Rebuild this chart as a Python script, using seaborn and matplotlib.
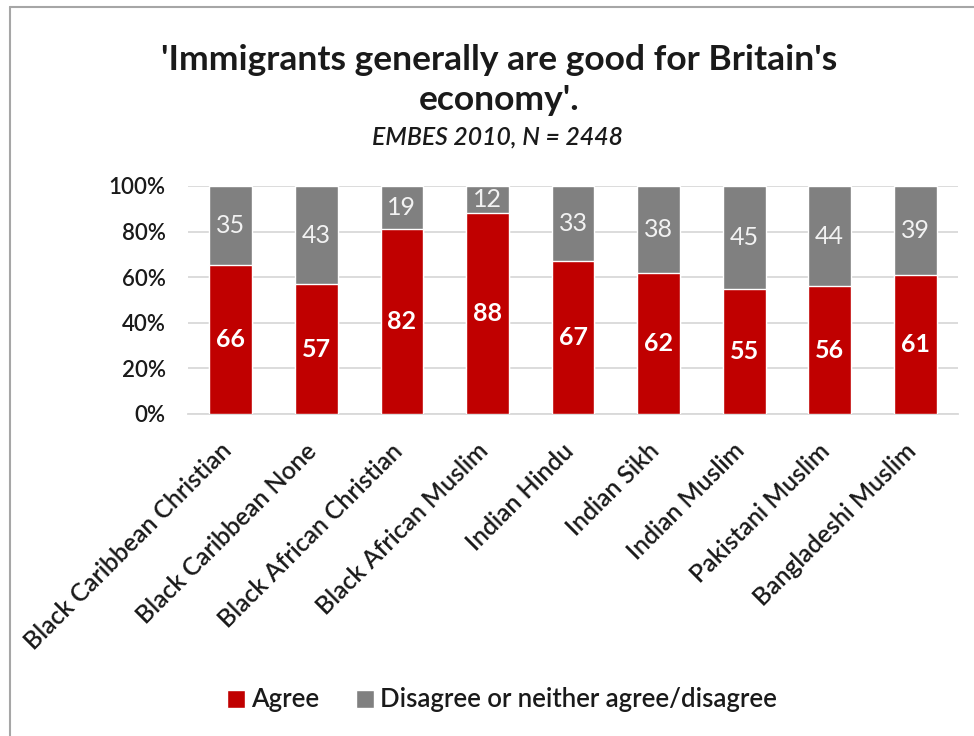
import matplotlib
matplotlib.use("Agg")
import matplotlib.pyplot as plt
import matplotlib.transforms as mtransforms
from matplotlib.lines import Line2D
from matplotlib.patches import Patch
import seaborn as sns
import pandas as pd

# Survey responses by ethno-religious group (counts shown as labels)
groups = [
    "Black Caribbean Christian",
    "Black Caribbean None",
    "Black African Christian",
    "Black African Muslim",
    "Indian Hindu",
    "Indian Sikh",
    "Indian Muslim",
    "Pakistani Muslim",
    "Bangladeshi Muslim",
]
agree = [66, 57, 82, 88, 67, 62, 55, 56, 61]
disagree = [35, 43, 19, 12, 33, 38, 45, 44, 39]
y_ticks = [0, 20, 40, 60, 80, 100]

AGREE_COLOR = "#C00000"
DISAGREE_COLOR = "#808080"
TEXT_COLOR = "#1a1a1a"
LABEL_WEIGHT = "semibold"

sns.set_theme(style="white")
plt.rcParams["font.family"] = ["Lato", "DejaVu Sans"]

df = pd.DataFrame({"group": groups, "agree": agree, "disagree": disagree})
df["total"] = df["agree"] + df["disagree"]
df["agree_pct"] = df["agree"] / df["total"] * 100
df["full_pct"] = 100.0

W, H = 974, 736
fig = plt.figure(figsize=(W / 100, H / 100), dpi=100)
ax = fig.add_axes([188 / W, 1 - 414 / H, 770 / W, 228 / H])

# 100% stacked bars: full-height grey bar with the red "agree" share on top
sns.barplot(data=df, x="group", y="full_pct", color=DISAGREE_COLOR, width=0.5,
            saturation=1, errorbar=None, ax=ax, zorder=2)
sns.barplot(data=df, x="group", y="agree_pct", color=AGREE_COLOR, width=0.5,
            saturation=1, errorbar=None, ax=ax, zorder=3)

for i, row in df.iterrows():
    ax.text(i, row["agree_pct"] / 2, f"{row['agree']}", ha="center", va="center",
            color="white", fontsize=18, fontweight="bold", zorder=5)
    ax.text(i, row["agree_pct"] + (100 - row["agree_pct"]) / 2, f"{row['disagree']}",
            ha="center", va="center", color="#F2F2F2", fontsize=18, zorder=5)

ax.set_xlim(-0.5, len(groups) - 0.5)
ax.set_ylim(0, 100)
ax.set_yticks(y_ticks)
ax.set_yticklabels([f"{v}%" for v in y_ticks], fontweight=LABEL_WEIGHT)
ax.set_xlabel("")
ax.set_ylabel("")
ax.yaxis.grid(True, color="#D9D9D9", linewidth=1.3, zorder=0)
ax.set_axisbelow(True)
for side in ["left", "right", "top"]:
    ax.spines[side].set_visible(False)
ax.spines["bottom"].set_color("#D9D9D9")
ax.spines["bottom"].set_linewidth(1.3)

ax.tick_params(axis="y", length=0, pad=16, labelsize=16, labelcolor=TEXT_COLOR)
ax.tick_params(axis="x", length=0, pad=18, labelsize=17.8, labelcolor=TEXT_COLOR)
offset = mtransforms.ScaledTranslation(5 / 100, 0, fig.dpi_scale_trans)
for lab in ax.get_xticklabels():
    lab.set_rotation(45)
    lab.set_ha("right")
    lab.set_va("top")
    lab.set_fontweight(LABEL_WEIGHT)
    lab.set_transform(lab.get_transform() + offset)

fig.text(499 / W, 1 - 80 / H, "'Immigrants generally are good for Britain's\neconomy'.",
         ha="center", va="center", fontsize=25.5, fontweight="bold", color=TEXT_COLOR,
         linespacing=1.28)
fig.text(497 / W, 1 - 137 / H, "EMBES 2010, N = 2448", ha="center", va="center",
         fontsize=17.8, fontstyle="italic", fontweight=LABEL_WEIGHT, color=TEXT_COLOR)

handles = [Patch(facecolor=AGREE_COLOR, label="Agree"),
           Patch(facecolor=DISAGREE_COLOR, label="Disagree or neither agree/disagree")]
fig.legend(handles=handles, loc="center", bbox_to_anchor=(502 / W, 1 - 700 / H),
           ncol=2, frameon=False, handlelength=0.7, handleheight=0.7,
           handletextpad=0.25, columnspacing=1.4, labelcolor=TEXT_COLOR,
           prop={"size": 18.5, "weight": LABEL_WEIGHT})

# Frame lines along the top and left edges
fig.add_artist(Line2D([10 / W, 1], [1 - 7 / H, 1 - 7 / H], transform=fig.transFigure,
                      color="#A6A6A6", linewidth=1.5))
fig.add_artist(Line2D([10 / W, 10 / W], [0, 1 - 7 / H], transform=fig.transFigure,
                      color="#A6A6A6", linewidth=1.5))

fig.savefig("out.png", dpi=100, facecolor="white")
